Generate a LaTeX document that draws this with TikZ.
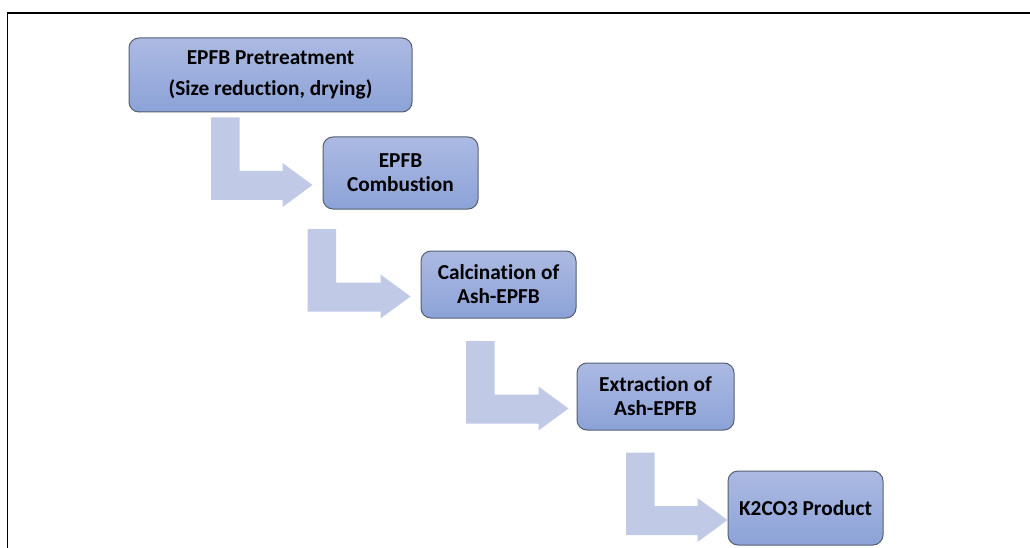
\documentclass[tikz,border=0pt]{standalone}
\usepackage{fontspec}
\setmainfont{Carlito}[Ligatures={NoCommon,NoRare,NoContextual}]
\usetikzlibrary{calc}
\definecolor{boxtop}{RGB}{172,186,226}
\definecolor{boxbottom}{RGB}{140,162,215}
\definecolor{boxline}{RGB}{85,95,112}
\definecolor{bendfill}{RGB}{192,202,230}

\begin{document}
\begin{tikzpicture}[x=1pt, y=-1pt,
  stage/.style={draw=boxline, line width=1pt, rounded corners=10pt,
    top color=boxtop, bottom color=boxbottom, align=center, inner sep=0pt,
    minimum width=155pt, font=\fontsize{21.3}{24}\selectfont\bfseries},
  bendshape/.style={fill=bendfill}]
  \useasboundingbox (0,0) rectangle (1030,548);
  \draw[line width=1.6pt] (1030,13) -- (7.5,13) -- (7.5,548);
  % shaft x, gap before the box, target box
  \def\bendarrow#1#2#3{%
    \fill[bendshape] let \p2=(#3.west) in
      (#1pt,\y2+55.5pt) -- (#1pt+28.5pt,\y2+55.5pt) -- (#1pt+28.5pt,\y2+2pt)
      -- (\x2-#2pt-30pt,\y2+2pt) -- (\x2-#2pt-30pt,\y2+10pt) -- (\x2-#2pt,\y2-12pt)
      -- (\x2-#2pt-30pt,\y2-34pt) -- (\x2-#2pt-30pt,\y2-27pt) -- (#1pt,\y2-27pt) -- cycle;}
  \node[stage, minimum width=283pt, minimum height=74pt] (pre) at (270.5,75)
    {EPFB Pretreatment\\[7pt](Size reduction, drying)};
  \node[stage, minimum height=72pt] (comb) at (400.5,173) {EPFB\\Combustion};
  \node[stage, minimum height=67pt] (calc) at (498.5,284.5) {Calcination of\\Ash-EPFB};
  \node[stage, minimum width=157pt, minimum height=67pt] (extr) at (655.5,396.5) {Extraction of\\Ash-EPFB};
  \node[stage, minimum height=74pt] (prod) at (805.5,508) {K2CO3 Product};
  \bendarrow{211}{10}{comb}
  \bendarrow{307.5}{10}{calc}
  \bendarrow{466}{8}{extr}
  \bendarrow{626}{0}{prod}
\end{tikzpicture}
\end{document}
